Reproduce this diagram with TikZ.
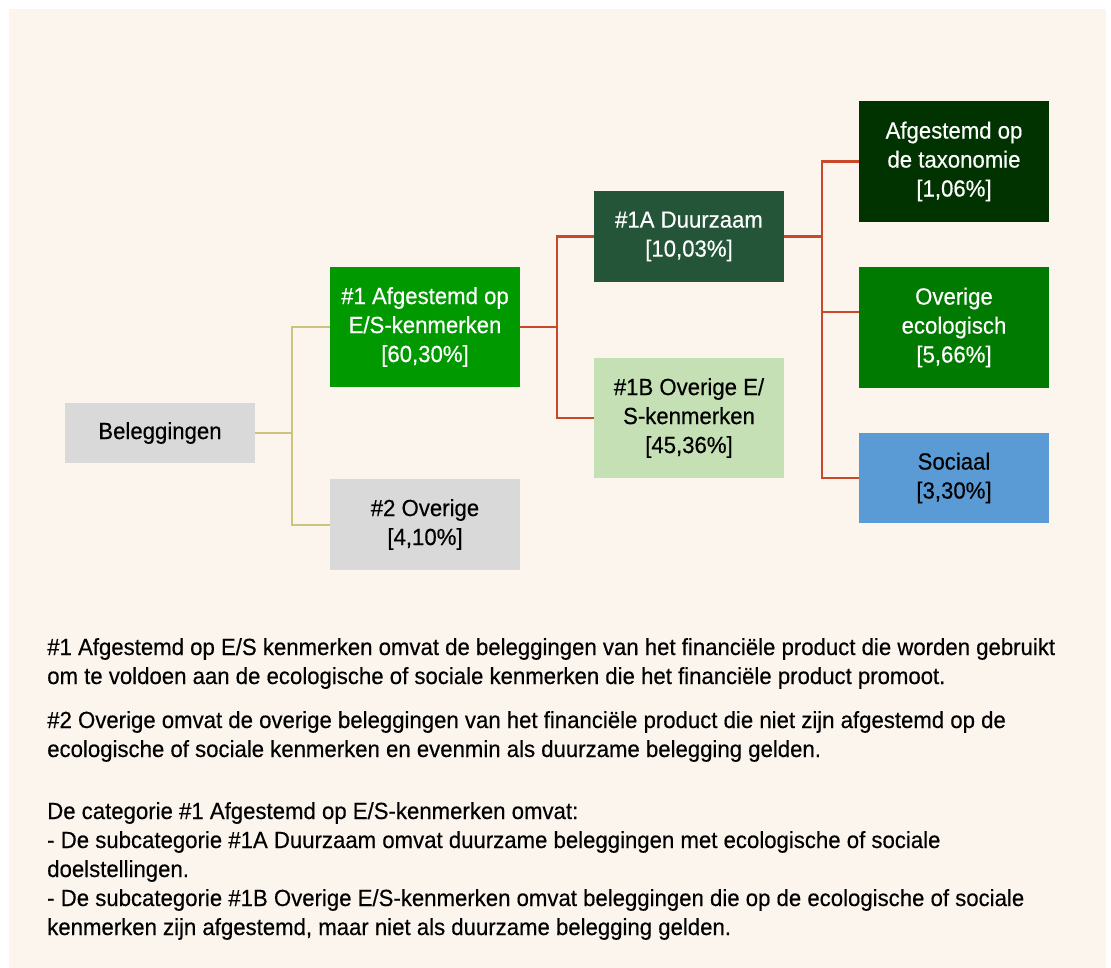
\documentclass[tikz,border=0pt]{standalone}
\usepackage{fontspec}
\setmainfont{Liberation Sans}[FakeStretch=0.95, FakeBold=0.4]
\usepackage{tikz}
\usepackage{xcolor}
\usetikzlibrary{positioning}

\definecolor{cream}{HTML}{FCF5EE}
\definecolor{boxgrey}{HTML}{D9D9D9}
\definecolor{esgreen}{HTML}{009900}
\definecolor{duurgreen}{HTML}{245539}
\definecolor{paleGreen}{HTML}{C5E0B4}
\definecolor{taxgreen}{HTML}{003300}
\definecolor{ecogreen}{HTML}{007A00}
\definecolor{socblue}{HTML}{5B9BD5}
\definecolor{linkyellow}{HTML}{CBC47C}
\definecolor{linkred}{HTML}{C9482A}

\begin{document}
\begin{tikzpicture}[x=0.75pt, y=-0.75pt,
        every node/.style={font=\fontsize{17.5}{21.75}\selectfont},
        catbox/.style={inner sep=0pt, minimum width=142.5pt, align=center},
        darkbox/.style={catbox, text=white},
        linkY/.style={draw=linkyellow, line width=1.5pt},
        linkR/.style={draw=linkred, line width=1.6pt},
        notes/.style={anchor=base west, align=left, inner sep=0pt}]

            \useasboundingbox (0,0) rectangle (1111,968);
            \fill[white] (0,0) rectangle (1111,968);
            \fill[cream] (9,9) rectangle (1106,968);

            \node[catbox, fill=boxgrey, minimum height=45pt]   (bel) at (160,433)   {Beleggingen};
            \node[darkbox, fill=esgreen, minimum height=90pt]  (es)  at (425,327)   {\#1 Afgestemd op\\E/S-kenmerken\\{}[60,30\%]};
            \node[catbox, fill=boxgrey, minimum height=68pt]   (ov)  at (425,524.5) {\#2 Overige\\{}[4,10\%]};
            \node[darkbox, fill=duurgreen, minimum height=68pt] (dz) at (689,236.5) {\#1A Duurzaam\\{}[10,03\%]};
            \node[catbox, fill=paleGreen, minimum height=90pt] (ob)  at (689,418)   {\#1B Overige E/\\S-kenmerken\\{}[45,36\%]};
            \node[darkbox, fill=taxgreen, minimum height=90.75pt] (tx) at (954,161.5) {Afgestemd op\\de taxonomie\\{}[1,06\%]};
            \node[darkbox, fill=ecogreen, minimum height=90.75pt] (eco) at (954,327.5) {Overige\\ecologisch\\{}[5,66\%]};
            \node[catbox, fill=socblue, minimum height=67.5pt] (soc) at (954,478)   {Sociaal\\{}[3,30\%]};

            \draw[linkY] (bel.east) -- ++(37,0) coordinate (j1) |- (es.west);
            \draw[linkY] (j1) |- (ov.west);

            \draw[linkR] (es.east) -- ++(36.5,0) coordinate (j2) |- (dz.west);
            \draw[linkR] (j2) |- (ob.west);

            \draw[linkR] (dz.east) -- ++(37.5,0) coordinate (j3) |- (tx.west);
            \draw[linkR] (j3) |- ([yshift=11.6pt]eco.west);
            \draw[linkR] (j3) |- (soc.west);

            \node[notes] (p1) at (47,684) {\#1 Afgestemd op E/S kenmerken omvat de beleggingen van het financiële product die worden gebruikt\\om te voldoen aan de ecologische of sociale kenmerken die het financiële product promoot.};
            \node[notes] (p2) at (47,757) {\#2 Overige omvat de overige beleggingen van het financiële product die niet zijn afgestemd op de\\ecologische of sociale kenmerken en evenmin als duurzame belegging gelden.};
            \node[notes] (p3) at (47,935) {De categorie \#1 Afgestemd op E/S-kenmerken omvat:\\- De subcategorie \#1A Duurzaam omvat duurzame beleggingen met ecologische of sociale\\doelstellingen.\\- De subcategorie \#1B Overige E/S-kenmerken omvat beleggingen die op de ecologische of sociale\\kenmerken zijn afgestemd, maar niet als duurzame belegging gelden.};

        \end{tikzpicture}
\end{document}
